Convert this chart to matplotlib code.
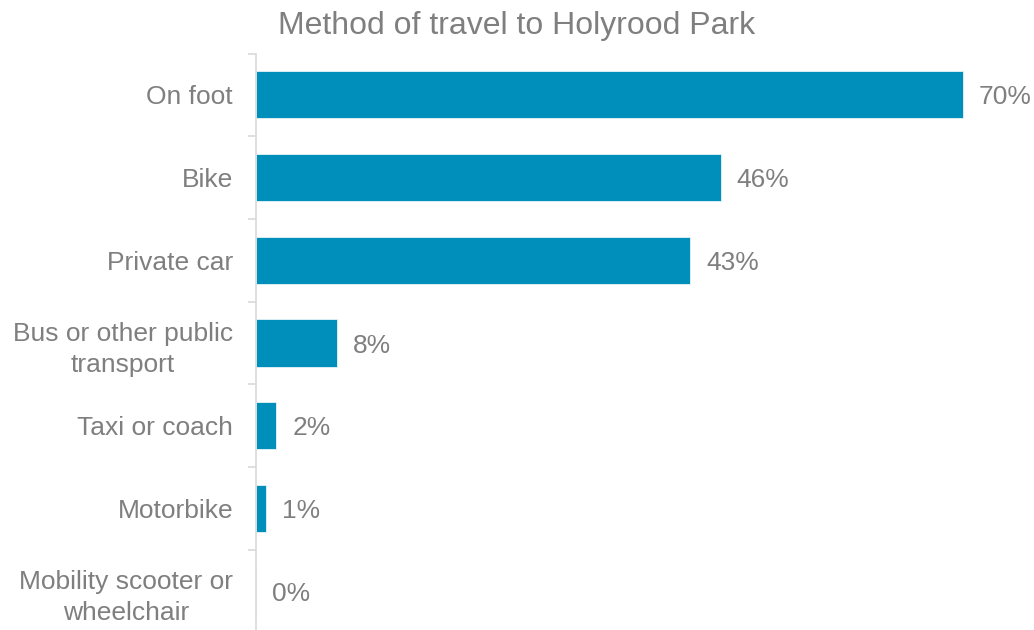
import numpy as np
import matplotlib.pyplot as plt

plt.rcParams['font.family'] = ['Liberation Sans', 'DejaVu Sans']

# survey results
methods = ["On foot", "Bike", "Private car", "Bus or other public\ntransport",
           "Taxi or coach", "Motorbike", "Mobility scooter or\nwheelchair"]
shares = [70, 46, 43, 8, 2, 1, 0]

barColor = "#008fbb"
textColor = "#7f7f7f"
axisColor = "#d9d9d9"

fig = plt.figure(figsize=(10.34, 6.30), dpi=100)
ax = fig.add_axes([256/1034, -0.004, 757.5/1034, 0.919])

pos = np.arange(len(methods))
ax.barh(pos, shares, height=0.57, color=barColor, edgecolor="#e8f4f8", linewidth=0.6)

# value labels to the right of each bar
for p, v in zip(pos, shares):
    ax.annotate(f"{v}%", (v, p), xytext=(11.5, 0), textcoords="offset points",
                va="center_baseline", ha="left", fontsize=19, color=textColor)

ax.set_xlim(0, 75)
ax.set_ylim(len(methods) - 0.5, -0.5)

ax.set_yticks(pos)
ax.set_yticklabels(methods, fontsize=19, color=textColor, multialignment="center",
                   linespacing=1.38)
ax.tick_params(axis="y", which="major", length=0, pad=16.5)
ax.set_yticks(np.arange(len(methods) + 1) - 0.5, minor=True)
ax.tick_params(axis="y", which="minor", length=5.8, width=1.2, color=axisColor)
ax.set_xticks([])

for s in ["top", "right", "bottom"]:
    ax.spines[s].set_visible(False)
ax.spines["left"].set_color(axisColor)
ax.spines["left"].set_linewidth(1.2)

fig.text(517/1034, 1 - 26/630, "Method of travel to Holyrood Park", ha="center", va="center",
         fontsize=23, color=textColor)

fig.savefig("out.png", dpi=100)
